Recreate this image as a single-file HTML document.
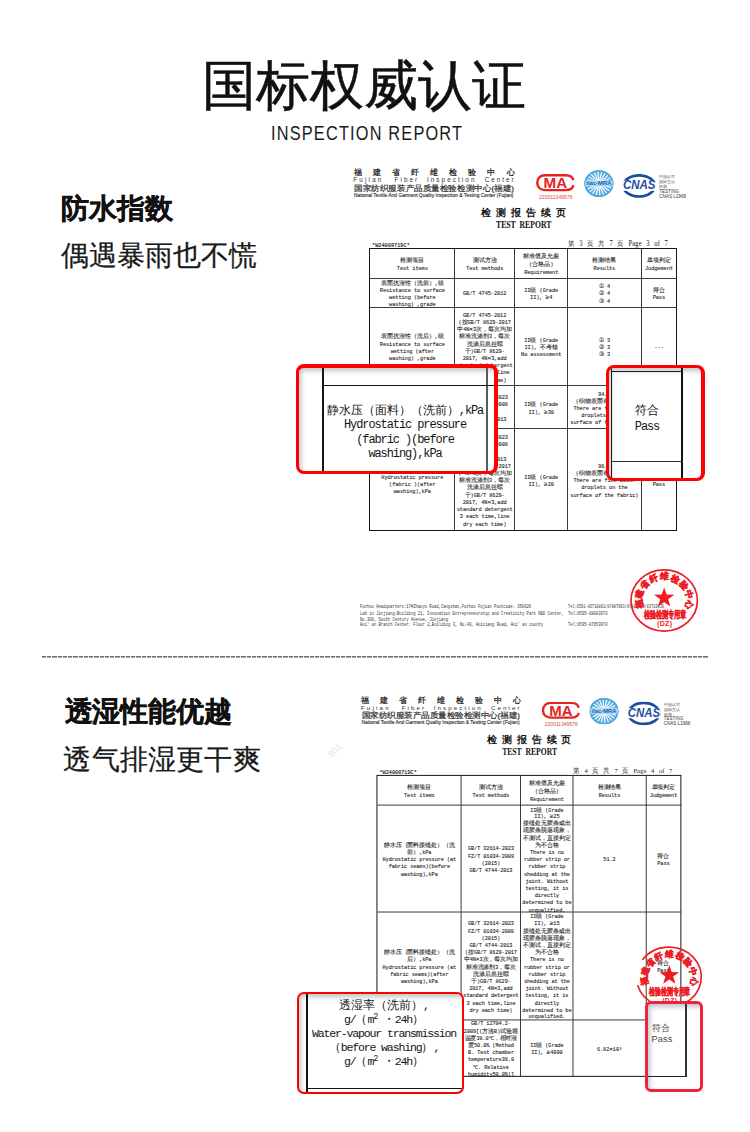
<!DOCTYPE html>
<html><head><meta charset="utf-8"><title>国标权威认证</title>
<style>
html,body{margin:0;padding:0;background:#fff;}
body{width:750px;height:1132px;position:relative;overflow:hidden;font-family:"Liberation Sans",sans-serif;color:#111;}
.ab,.ln,.ct,.jl,.fit,.co,svg.ab,.doc{position:absolute;}
.doc{left:0;top:0;width:750px;height:700px;transform-origin:0 0;}
.ab,.fit{white-space:nowrap;}
.fit{transform-origin:0 0;}
.ct{display:flex;align-items:center;justify-content:center;text-align:center;font-family:"Liberation Mono",monospace;letter-spacing:-0.08px;color:#111;white-space:nowrap;-webkit-text-stroke:0.1px #444;}
.ct b{font-weight:normal;letter-spacing:0;font-size:6.1px;line-height:0;-webkit-text-stroke:0.1px #444;color:#111;}
.mono{font-family:"Liberation Mono",monospace;}
.jl{display:flex;justify-content:space-between;white-space:nowrap;}
.co{box-sizing:border-box;background:#fff;overflow:hidden;}
.co .sh{position:absolute;left:0;top:0;right:0;bottom:0;box-shadow:inset 3px 4px 5px -1px rgba(60,75,75,.32);}
.z{font-family:"Liberation Mono",monospace;color:#151515;text-align:center;position:absolute;white-space:nowrap;}
.z b{font-weight:normal;letter-spacing:0;}
</style></head><body>
<div class="ab" style="left:201.5px;top:47px;font-size:54px;line-height:76px;color:#111;letter-spacing:0.1px;-webkit-text-stroke:0.5px #111">国标权威认证</div><div id="f1" class="fit" style="left:270.60px;top:120.80px;font-size:18px;line-height:22px;color:#1a1a1a;letter-spacing:1.3px;transform:scale(0.9075,1.1)">INSPECTION REPORT</div><div class="ab" style="left:61.2px;top:189px;font-size:28px;line-height:40px;font-weight:700;color:#111;-webkit-text-stroke:0.35px #111">防水指数</div><div class="ab" style="left:60.6px;top:236px;font-size:28px;letter-spacing:0.1px;line-height:40px;color:#1a1a1a;-webkit-text-stroke:0.25px #1a1a1a">偶遇暴雨也不慌</div><div class="doc"><div class="jl" style="left:353.6px;top:168.0px;width:161.0px;font-size:8.2px;line-height:9px;font-weight:400;color:#1a1a1a;-webkit-text-stroke:0.25px #1a1a1a"><span>福</span><span>建</span><span>省</span><span>纤</span><span>维</span><span>检</span><span>验</span><span>中</span><span>心</span></div><div class="jl" style="left:353.2px;top:175.5px;width:28.2px;font-size:6.3px;line-height:7px;color:#333"><span>F</span><span>u</span><span>j</span><span>i</span><span>a</span><span>n</span></div><div class="jl" style="left:394.6px;top:175.5px;width:22.5px;font-size:6.3px;line-height:7px;color:#333"><span>F</span><span>i</span><span>b</span><span>e</span><span>r</span></div><div class="jl" style="left:426.9px;top:175.5px;width:47.5px;font-size:6.3px;line-height:7px;color:#333"><span>I</span><span>n</span><span>s</span><span>p</span><span>e</span><span>c</span><span>t</span><span>i</span><span>o</span><span>n</span></div><div class="jl" style="left:484.8px;top:175.5px;width:28.8px;font-size:6.3px;line-height:7px;color:#333"><span>C</span><span>e</span><span>n</span><span>t</span><span>e</span><span>r</span></div><div id="f2" class="fit" style="left:353.80px;top:183.50px;font-size:7.6px;line-height:10px;color:#2a2a2a;-webkit-text-stroke:0.2px #333;transform:scale(1.0734,1.0)">国家纺织服装产品质量检验检测中心(福建)</div><div id="f3" class="fit" style="left:353.50px;top:193.20px;font-size:4.6px;line-height:5px;color:#222;-webkit-text-stroke:0.1px #222;transform:scale(1.0690,1.0)">National Textile And Garment Quality Inspection &amp; Testing Center (Fujian)</div><svg class="ab" style="left:536px;top:174.3px" width="39" height="17.4" viewBox="0 0 39 17.4">
<path d="M37.3 6.3 C36.8 2.9 34.2 1.25 29.5 1.25 H9 C4 1.25 1.25 4.4 1.25 8.7 C1.25 13 4 16.15 9 16.15 H29.5 C34.2 16.15 36.8 14.5 37.3 11.3" fill="none" stroke="#e8231f" stroke-width="2.4"/>
<text x="7.6" y="14.4" font-family="Liberation Sans" font-size="14.6" font-weight="700" fill="#e8231f" textLength="23.6" lengthAdjust="spacingAndGlyphs">MA</text>
</svg><div id="f4" class="fit" style="left:539.40px;top:194.60px;font-size:4.8px;line-height:5px;color:#e0473a;transform:scale(1.0577,1.0)">220011349576</div><svg class="ab" style="left:584.00px;top:169.60px" width="29.80" height="27.20" viewBox="0 0 32 32" preserveAspectRatio="none">
<circle cx="16" cy="16" r="15.6" fill="#5aaee0"/><line x1="19.49" y1="16.24" x2="29.17" y2="16.92" stroke="#fff" stroke-width="1.3" stroke-linecap="round"/><line x1="19.28" y1="17.22" x2="28.37" y2="20.60" stroke="#fff" stroke-width="1.3" stroke-linecap="round"/><line x1="18.80" y1="18.09" x2="26.58" y2="23.90" stroke="#fff" stroke-width="1.3" stroke-linecap="round"/><line x1="18.10" y1="18.80" x2="23.93" y2="26.56" stroke="#fff" stroke-width="1.3" stroke-linecap="round"/><line x1="17.23" y1="19.28" x2="20.63" y2="28.36" stroke="#fff" stroke-width="1.3" stroke-linecap="round"/><line x1="16.25" y1="19.49" x2="16.96" y2="29.17" stroke="#fff" stroke-width="1.3" stroke-linecap="round"/><line x1="15.26" y1="19.42" x2="13.21" y2="28.90" stroke="#fff" stroke-width="1.3" stroke-linecap="round"/><line x1="14.33" y1="19.07" x2="9.69" y2="27.59" stroke="#fff" stroke-width="1.3" stroke-linecap="round"/><line x1="13.53" y1="18.48" x2="6.68" y2="25.35" stroke="#fff" stroke-width="1.3" stroke-linecap="round"/><line x1="12.93" y1="17.68" x2="4.42" y2="22.34" stroke="#fff" stroke-width="1.3" stroke-linecap="round"/><line x1="12.58" y1="16.75" x2="3.11" y2="18.82" stroke="#fff" stroke-width="1.3" stroke-linecap="round"/><line x1="12.51" y1="15.76" x2="2.83" y2="15.08" stroke="#fff" stroke-width="1.3" stroke-linecap="round"/><line x1="12.72" y1="14.78" x2="3.63" y2="11.40" stroke="#fff" stroke-width="1.3" stroke-linecap="round"/><line x1="13.20" y1="13.91" x2="5.42" y2="8.10" stroke="#fff" stroke-width="1.3" stroke-linecap="round"/><line x1="13.90" y1="13.20" x2="8.07" y2="5.44" stroke="#fff" stroke-width="1.3" stroke-linecap="round"/><line x1="14.77" y1="12.72" x2="11.37" y2="3.64" stroke="#fff" stroke-width="1.3" stroke-linecap="round"/><line x1="15.75" y1="12.51" x2="15.04" y2="2.83" stroke="#fff" stroke-width="1.3" stroke-linecap="round"/><line x1="16.74" y1="12.58" x2="18.79" y2="3.10" stroke="#fff" stroke-width="1.3" stroke-linecap="round"/><line x1="17.67" y1="12.93" x2="22.31" y2="4.41" stroke="#fff" stroke-width="1.3" stroke-linecap="round"/><line x1="18.47" y1="13.52" x2="25.32" y2="6.65" stroke="#fff" stroke-width="1.3" stroke-linecap="round"/><line x1="19.07" y1="14.32" x2="27.58" y2="9.66" stroke="#fff" stroke-width="1.3" stroke-linecap="round"/><line x1="19.42" y1="15.25" x2="28.89" y2="13.18" stroke="#fff" stroke-width="1.3" stroke-linecap="round"/>
<circle cx="16" cy="16" r="15.1" fill="none" stroke="#4aa3d9" stroke-width="1.1"/>
<rect x="1.2" y="12.6" width="29.6" height="6.8" fill="#a9d8f1"/>
<text x="16" y="18" font-family="Liberation Sans" font-size="6.2" font-weight="700" fill="#1f5fb8" text-anchor="middle" textLength="27" lengthAdjust="spacingAndGlyphs">ilac-MRA</text>
</svg><svg class="ab" style="left:622.3px;top:173.8px" width="34.2" height="23.8" viewBox="0 0 34.2 23.8">
<ellipse cx="17.1" cy="11.9" rx="15.7" ry="10.6" fill="none" stroke="#1d4d9e" stroke-width="2.7"/>
<rect x="0" y="6.6" width="34.2" height="10.2" fill="#fff"/>
<text x="0.9" y="15.5" font-family="Liberation Sans" font-size="13" font-weight="700" font-style="italic" fill="#1d4d9e" textLength="32.6" lengthAdjust="spacingAndGlyphs">CNAS</text>
</svg><div class="ab" style="left:659.2px;top:174.2px;font-size:4.3px;line-height:5.0px;color:#555;">中国认可<br>国际互认<br>检测<br><span style="font-size:4.6px;color:#333">TESTING</span><br><span style="font-size:4.6px;color:#333">CNAS L1968</span></div><div class="jl" style="left:480.8px;top:206.8px;width:85px;font-size:9.6px;line-height:11px;font-weight:700;color:#111"><span>检</span><span>测</span><span>报</span><span>告</span><span>续</span><span>页</span></div><div id="f5" class="fit" style="left:495.60px;top:218.90px;font-family:'Liberation Serif',serif;font-size:9.8px;line-height:11px;font-weight:700;color:#111;word-spacing:2.5px;transform:scale(0.7879,1.0)">TEST REPORT</div><div id="f6" class="fit" style="left:371.60px;top:243.30px;font-family:'Liberation Mono',monospace;font-size:5.9px;line-height:6px;color:#111;-webkit-text-stroke:0.15px #333;transform:scale(0.8910,1.0)">*W24008719C*</div><div id="f7" class="fit" style="left:568.30px;top:240.30px;font-family:'Liberation Serif',serif;font-size:7.2px;line-height:9px;color:#151515;word-spacing:3.2px;letter-spacing:0.1px;transform:scale(0.9123,1.0)">第 3 页 共 7 页 Page 3 of 7</div><div class="ln" style="left:369.35px;top:248.15px;width:308.10px;height:283.00px;border:1.7px solid #151515;box-sizing:border-box"></div><div class="ln" style="left:454.05px;top:249.00px;width:0.9px;height:281.30px;background:#3a3a3a"></div><div class="ln" style="left:514.35px;top:249.00px;width:0.9px;height:281.30px;background:#3a3a3a"></div><div class="ln" style="left:567.15px;top:249.00px;width:0.9px;height:281.30px;background:#3a3a3a"></div><div class="ln" style="left:640.75px;top:249.00px;width:0.9px;height:281.30px;background:#3a3a3a"></div><div class="ln" style="left:370.20px;top:277.55px;width:306.40px;height:0.9px;background:#3a3a3a"></div><div class="ln" style="left:370.20px;top:306.85px;width:306.40px;height:0.9px;background:#3a3a3a"></div><div class="ln" style="left:370.20px;top:385.25px;width:306.40px;height:0.9px;background:#3a3a3a"></div><div class="ln" style="left:370.20px;top:428.25px;width:306.40px;height:0.9px;background:#3a3a3a"></div><div class="ct" style="left:370.20px;top:251.20px;width:84.30px;height:29.00px;font-size:5.3px;line-height:7.8px;"><div><b>检测项目</b><br>Test items</div></div><div class="ct" style="left:454.50px;top:251.20px;width:60.30px;height:29.00px;font-size:5.3px;line-height:7.8px;"><div><b>测试方法</b><br>Test methods</div></div><div class="ct" style="left:514.80px;top:251.20px;width:52.80px;height:29.00px;font-size:5.3px;line-height:7.8px;"><div><b>标准值及允差</b><br>(<b>合格品</b>)<br>Requirement</div></div><div class="ct" style="left:567.60px;top:251.20px;width:73.60px;height:29.00px;font-size:5.3px;line-height:7.8px;"><div><b>检测结果</b><br>Results</div></div><div class="ct" style="left:641.20px;top:251.20px;width:35.40px;height:29.00px;font-size:5.3px;line-height:7.8px;"><div><b>单项判定</b><br>Judgement</div></div><div class="ct" style="left:370.20px;top:280.40px;width:84.30px;height:29.30px;font-size:5.3px;line-height:7.2px;"><div><b>表面抗湿性（洗前）</b>,<b>级</b><br>Resistance to surface<br>wetting (before<br>washing) ,grade</div></div><div class="ct" style="left:454.50px;top:280.40px;width:60.30px;height:29.30px;font-size:5.3px;line-height:7.2px;"><div>GB/T 4745-2012</div></div><div class="ct" style="left:514.80px;top:280.40px;width:52.80px;height:29.30px;font-size:5.3px;line-height:7.2px;"><div>II<b>级</b> (Grade<br>II), <b>≥</b>4</div></div><div class="ct" style="left:567.60px;top:280.40px;width:73.60px;height:29.30px;font-size:5.3px;line-height:7.2px;"><div><b>①</b> 4<br><b>②</b> 4<br><b>③</b> 4</div></div><div class="ct" style="left:641.20px;top:280.40px;width:35.40px;height:29.30px;font-size:5.3px;line-height:7.2px;"><div><b>符合</b><br>Pass</div></div><div class="ct" style="left:370.20px;top:309.70px;width:84.30px;height:78.40px;font-size:5.3px;line-height:7.2px;"><div><b>表面抗湿性（洗后）</b>,<b>级</b><br>Resistance to surface<br>wetting (after<br>washing) ,grade</div></div><div class="ct" style="left:454.50px;top:309.70px;width:60.30px;height:78.40px;font-size:5.3px;line-height:7.2px;"><div>GB/T 4745-2012<br>(<b>按</b>GB/T 8629-2017<br><b>中</b>4N<b>×</b>3<b>次，每次均加</b><br><b>标准洗涤剂</b>3<b>，每次</b><br><b>洗涤后悬挂晾</b><br><b>干</b>)GB/T 8629-<br>2017, 4N<b>×</b>3,add<br>standard detergent<br>3 each time,line<br>dry each time)</div></div><div class="ct" style="left:514.80px;top:309.70px;width:52.80px;height:78.40px;font-size:5.3px;line-height:7.2px;"><div>II<b>级</b> (Grade<br>II), <b>不考核</b><br>No assessment</div></div><div class="ct" style="left:567.60px;top:309.70px;width:73.60px;height:78.40px;font-size:5.3px;line-height:7.2px;"><div><b>①</b> 3<br><b>②</b> 3<br><b>③</b> 3</div></div><div class="ct" style="left:641.20px;top:309.70px;width:35.40px;height:78.40px;font-size:5.3px;line-height:7.2px;"><div>---</div></div><div class="ct" style="left:370.20px;top:388.10px;width:84.30px;height:43.00px;font-size:5.3px;line-height:7.2px;"><div><b>静水压（面料）（洗前）</b>,kPa<br>Hydrostatic pressure<br>(fabric )(before<br>washing),kPa</div></div><div class="ct" style="left:454.50px;top:388.10px;width:60.30px;height:43.00px;font-size:5.3px;line-height:7.2px;"><div>GB/T 32614-2023<br>FZ/T 01034-2008<br>(2015)<br>GB/T 4744-2013</div></div><div class="ct" style="left:514.80px;top:388.10px;width:52.80px;height:43.00px;font-size:5.3px;line-height:7.2px;"><div>II<b>级</b> (Grade<br>II), <b>≥</b>30</div></div><div class="ct" style="left:567.60px;top:388.10px;width:73.60px;height:43.00px;font-size:5.3px;line-height:7.2px;"><div>94.0<br>(<b>织物表面有细小水珠</b><br>There are fine water<br>droplets on the<br>surface of the fabric)</div></div><div class="ct" style="left:641.20px;top:388.10px;width:35.40px;height:43.00px;font-size:5.3px;line-height:7.2px;"><div><b>符合</b><br>Pass</div></div><div class="ct" style="left:370.20px;top:431.10px;width:84.30px;height:101.60px;font-size:5.3px;line-height:7.2px;"><div><b>静水压（面料）（洗后）</b>,kPa<br>Hydrostatic pressure<br>(fabric )(after<br>washing),kPa</div></div><div class="ct" style="left:454.50px;top:431.10px;width:60.30px;height:101.60px;font-size:5.3px;line-height:7.2px;"><div>GB/T 32614-2023<br>FZ/T 01034-2008<br>(2015)<br>GB/T 4744-2013<br>(<b>按</b>GB/T 8629-2017<br><b>中</b>4N<b>×</b>3<b>次，每次均加</b><br><b>标准洗涤剂</b>3<b>，每次</b><br><b>洗涤后悬挂晾</b><br><b>干</b>)GB/T 8629-<br>2017, 4N<b>×</b>3,add<br>standard detergent<br>3 each time,line<br>dry each time)</div></div><div class="ct" style="left:514.80px;top:431.10px;width:52.80px;height:101.60px;font-size:5.3px;line-height:7.2px;"><div>II<b>级</b> (Grade<br>II), <b>≥</b>20</div></div><div class="ct" style="left:567.60px;top:431.10px;width:73.60px;height:101.60px;font-size:5.3px;line-height:7.2px;"><div>96.0<br>(<b>织物表面有细小水珠</b><br>There are fine water<br>droplets on the<br>surface of the fabric)</div></div><div class="ct" style="left:641.20px;top:431.10px;width:35.40px;height:101.60px;font-size:5.3px;line-height:7.2px;"><div><b>符合</b><br>Pass</div></div><div id="f8" class="fit" style="left:359.60px;top:604.40px;font-family:'Liberation Mono',monospace;font-size:5.6px;line-height:6px;color:#333;transform:scale(0.6888,1.0)">Fuzhou Headquarters:17#Zhaoyu Road,Cangshan,Fuzhou Fujian Postcode: 350026</div><div id="f9" class="fit" style="left:359.60px;top:611.00px;font-family:'Liberation Mono',monospace;font-size:5.6px;line-height:6px;color:#333;transform:scale(0.6892,1.0)">Lab in Jinjiang:Building 21, Innovation Entrepreneurship and Creativity Park R&amp;D Center,</div><div id="f10" class="fit" style="left:359.60px;top:616.50px;font-family:'Liberation Mono',monospace;font-size:5.6px;line-height:6px;color:#333;transform:scale(0.6899,1.0)">No.300, South Century Avenue, Jinjiang</div><div id="f11" class="fit" style="left:359.60px;top:622.20px;font-family:'Liberation Mono',monospace;font-size:5.6px;line-height:6px;color:#333;transform:scale(0.6905,1.0)">Hui' an Branch Center: Floor 2,Building 3, No.49, Huixiang Road, Hui' an county</div><div id="f12" class="fit" style="left:568.00px;top:604.40px;font-family:'Liberation Mono',monospace;font-size:5.6px;line-height:6px;color:#333;transform:scale(0.6500,1.0)">Tel:0591-83710801/87887063/87887062/83719836</div><div id="f13" class="fit" style="left:568.00px;top:611.00px;font-family:'Liberation Mono',monospace;font-size:5.6px;line-height:6px;color:#333;transform:scale(0.6920,1.0)">Tel:0595-88083970</div><div id="f14" class="fit" style="left:568.00px;top:622.20px;font-family:'Liberation Mono',monospace;font-size:5.6px;line-height:6px;color:#333;transform:scale(0.6920,1.0)">Tel:0595-87653970</div></div><svg class="ab" style="left:630.30px;top:569.30px;overflow:visible" width="68.40" height="63.00" viewBox="0 0 68 63">
<ellipse cx="34" cy="31.5" rx="33.2" ry="30.6" fill="none" stroke="#ee1c25" stroke-width="1.7"/>
<g font-family="Liberation Sans"><text x="8.75" y="34.84" font-size="8.8" font-weight="700" fill="#ee1c25" stroke="#ee1c25" stroke-width="0.45" text-anchor="middle" dominant-baseline="central" transform="rotate(262.0 8.75 34.84) scale(1 1)">福</text><text x="9.58" y="24.58" font-size="8.8" font-weight="700" fill="#ee1c25" stroke="#ee1c25" stroke-width="0.45" text-anchor="middle" dominant-baseline="central" transform="rotate(286.8 9.58 24.58) scale(1 1)">建</text><text x="14.90" y="15.60" font-size="8.8" font-weight="700" fill="#ee1c25" stroke="#ee1c25" stroke-width="0.45" text-anchor="middle" dominant-baseline="central" transform="rotate(311.5 14.90 15.60) scale(1 1)">省</text><text x="23.73" y="9.53" font-size="8.8" font-weight="700" fill="#ee1c25" stroke="#ee1c25" stroke-width="0.45" text-anchor="middle" dominant-baseline="central" transform="rotate(336.2 23.73 9.53) scale(1 1)">纤</text><text x="34.45" y="7.50" font-size="8.8" font-weight="700" fill="#ee1c25" stroke="#ee1c25" stroke-width="0.45" text-anchor="middle" dominant-baseline="central" transform="rotate(361.0 34.45 7.50) scale(1 1)">维</text><text x="45.08" y="9.88" font-size="8.8" font-weight="700" fill="#ee1c25" stroke="#ee1c25" stroke-width="0.45" text-anchor="middle" dominant-baseline="central" transform="rotate(385.8 45.08 9.88) scale(1 1)">检</text><text x="53.68" y="16.23" font-size="8.8" font-weight="700" fill="#ee1c25" stroke="#ee1c25" stroke-width="0.45" text-anchor="middle" dominant-baseline="central" transform="rotate(410.5 53.68 16.23) scale(1 1)">验</text><text x="58.66" y="25.39" font-size="8.8" font-weight="700" fill="#ee1c25" stroke="#ee1c25" stroke-width="0.45" text-anchor="middle" dominant-baseline="central" transform="rotate(435.2 58.66 25.39) scale(1 1)">中</text><text x="59.11" y="35.67" font-size="8.8" font-weight="700" fill="#ee1c25" stroke="#ee1c25" stroke-width="0.45" text-anchor="middle" dominant-baseline="central" transform="rotate(460.0 59.11 35.67) scale(1 1)">心</text></g>
<polygon points="34.00,18.40 36.47,25.60 44.08,25.72 37.99,30.30 40.23,37.58 34.00,33.20 27.77,37.58 30.01,30.30 23.92,25.72 31.53,25.60" fill="#ee1c25"/>
<text x="34.5" y="48.5" font-family="Liberation Sans" font-size="8.4" font-weight="700" fill="#ee1c25" stroke="#ee1c25" stroke-width="0.3" text-anchor="middle" transform="translate(0 -8) scale(1 1.17)" textLength="42" lengthAdjust="spacingAndGlyphs">检验检测专用章</text>
<text x="34.5" y="56.9" font-family="Liberation Sans" font-size="7" font-weight="700" fill="#ee1c25" text-anchor="middle" letter-spacing="0.4">(DZ)</text>
</svg><div class="co" style="left:296px;top:364px;width:202px;height:110px;border-style:solid;border-color:#ff0000;border-width:4px 4px 3px 3px;border-radius:8px"><div class="sh"></div><div class="ln" style="left:23px;top:0;width:2px;height:200px;background:#151515"></div><div class="ln" style="left:187px;top:0;width:2px;height:200px;background:#5a5a5a"></div><div class="ln" style="left:23px;top:16.8px;width:175px;height:1.3px;background:#151515"></div><div class="z" style="left:23px;top:35.5px;width:166px;font-size:12px;line-height:14.5px;letter-spacing:-1.1px"><b>静水压（面料）（洗前）</b>,kPa<br>Hydrostatic pressure<br>(fabric )(before<br>washing),kPa</div></div><div class="co" style="left:606px;top:365px;width:99px;height:116px;border-style:solid;border-color:#ff0000;border-width:3px 4px 3px 3px;border-radius:8px"><div class="sh"></div><div class="ln" style="left:2px;top:0;width:1.2px;height:120px;background:#1a1a1a"></div><div class="ln" style="left:72px;top:0;width:2px;height:120px;background:#111"></div><div class="ln" style="left:2px;top:3px;width:72px;height:1.3px;background:#1a1a1a"></div><div class="ln" style="left:2px;top:93px;width:72px;height:1px;background:#333"></div><div class="z" style="left:3px;top:36px;width:70px;font-size:12px;line-height:15.5px;letter-spacing:-1.1px"><b>符合</b><br>Pass</div></div><div class="ln" style="left:41.8px;top:656px;width:666px;height:1px;background:repeating-linear-gradient(90deg,#6e6e6e 0 4.1px,#e6e6e6 4.1px 5.25px)"></div><div class="ln" style="left:41.8px;top:657px;width:666px;height:1px;background:repeating-linear-gradient(90deg,#a8a8a8 0 4.1px,#f2f2f2 4.1px 5.25px)"></div><div class="ab" style="left:64.6px;top:691.5px;font-size:28px;letter-spacing:-0.1px;line-height:40px;font-weight:700;color:#111;-webkit-text-stroke:0.35px #111">透湿性能优越</div><div class="ab" style="left:63.4px;top:739.5px;font-size:28px;letter-spacing:0.2px;line-height:40px;color:#1a1a1a;-webkit-text-stroke:0.25px #1a1a1a">透气排湿更干爽</div><div class="ab" style="left:323px;top:745.5px;width:22px;text-align:center;font-size:9px;line-height:11px;color:#e6e6e6;transform:rotate(-42deg)">.901</div><div class="doc" style="transform:translate(11.137px,529.383px) scale(0.99)"><div class="jl" style="left:353.6px;top:168.0px;width:161.0px;font-size:8.2px;line-height:9px;font-weight:400;color:#1a1a1a;-webkit-text-stroke:0.25px #1a1a1a"><span>福</span><span>建</span><span>省</span><span>纤</span><span>维</span><span>检</span><span>验</span><span>中</span><span>心</span></div><div class="jl" style="left:353.2px;top:175.5px;width:28.2px;font-size:6.3px;line-height:7px;color:#333"><span>F</span><span>u</span><span>j</span><span>i</span><span>a</span><span>n</span></div><div class="jl" style="left:394.6px;top:175.5px;width:22.5px;font-size:6.3px;line-height:7px;color:#333"><span>F</span><span>i</span><span>b</span><span>e</span><span>r</span></div><div class="jl" style="left:426.9px;top:175.5px;width:47.5px;font-size:6.3px;line-height:7px;color:#333"><span>I</span><span>n</span><span>s</span><span>p</span><span>e</span><span>c</span><span>t</span><span>i</span><span>o</span><span>n</span></div><div class="jl" style="left:484.8px;top:175.5px;width:28.8px;font-size:6.3px;line-height:7px;color:#333"><span>C</span><span>e</span><span>n</span><span>t</span><span>e</span><span>r</span></div><div id="f15" class="fit" style="left:353.80px;top:183.50px;font-size:7.6px;line-height:10px;color:#2a2a2a;-webkit-text-stroke:0.2px #333;transform:scale(1.0734,1.0)">国家纺织服装产品质量检验检测中心(福建)</div><div id="f16" class="fit" style="left:353.50px;top:193.20px;font-size:4.6px;line-height:5px;color:#222;-webkit-text-stroke:0.1px #222;transform:scale(1.0690,1.0)">National Textile And Garment Quality Inspection &amp; Testing Center (Fujian)</div><svg class="ab" style="left:536px;top:174.3px" width="39" height="17.4" viewBox="0 0 39 17.4">
<path d="M37.3 6.3 C36.8 2.9 34.2 1.25 29.5 1.25 H9 C4 1.25 1.25 4.4 1.25 8.7 C1.25 13 4 16.15 9 16.15 H29.5 C34.2 16.15 36.8 14.5 37.3 11.3" fill="none" stroke="#e8231f" stroke-width="2.4"/>
<text x="7.6" y="14.4" font-family="Liberation Sans" font-size="14.6" font-weight="700" fill="#e8231f" textLength="23.6" lengthAdjust="spacingAndGlyphs">MA</text>
</svg><div id="f17" class="fit" style="left:539.40px;top:194.60px;font-size:4.8px;line-height:5px;color:#e0473a;transform:scale(1.0577,1.0)">220011349576</div><svg class="ab" style="left:584.00px;top:169.60px" width="29.80" height="27.20" viewBox="0 0 32 32" preserveAspectRatio="none">
<circle cx="16" cy="16" r="15.6" fill="#5aaee0"/><line x1="19.49" y1="16.24" x2="29.17" y2="16.92" stroke="#fff" stroke-width="1.3" stroke-linecap="round"/><line x1="19.28" y1="17.22" x2="28.37" y2="20.60" stroke="#fff" stroke-width="1.3" stroke-linecap="round"/><line x1="18.80" y1="18.09" x2="26.58" y2="23.90" stroke="#fff" stroke-width="1.3" stroke-linecap="round"/><line x1="18.10" y1="18.80" x2="23.93" y2="26.56" stroke="#fff" stroke-width="1.3" stroke-linecap="round"/><line x1="17.23" y1="19.28" x2="20.63" y2="28.36" stroke="#fff" stroke-width="1.3" stroke-linecap="round"/><line x1="16.25" y1="19.49" x2="16.96" y2="29.17" stroke="#fff" stroke-width="1.3" stroke-linecap="round"/><line x1="15.26" y1="19.42" x2="13.21" y2="28.90" stroke="#fff" stroke-width="1.3" stroke-linecap="round"/><line x1="14.33" y1="19.07" x2="9.69" y2="27.59" stroke="#fff" stroke-width="1.3" stroke-linecap="round"/><line x1="13.53" y1="18.48" x2="6.68" y2="25.35" stroke="#fff" stroke-width="1.3" stroke-linecap="round"/><line x1="12.93" y1="17.68" x2="4.42" y2="22.34" stroke="#fff" stroke-width="1.3" stroke-linecap="round"/><line x1="12.58" y1="16.75" x2="3.11" y2="18.82" stroke="#fff" stroke-width="1.3" stroke-linecap="round"/><line x1="12.51" y1="15.76" x2="2.83" y2="15.08" stroke="#fff" stroke-width="1.3" stroke-linecap="round"/><line x1="12.72" y1="14.78" x2="3.63" y2="11.40" stroke="#fff" stroke-width="1.3" stroke-linecap="round"/><line x1="13.20" y1="13.91" x2="5.42" y2="8.10" stroke="#fff" stroke-width="1.3" stroke-linecap="round"/><line x1="13.90" y1="13.20" x2="8.07" y2="5.44" stroke="#fff" stroke-width="1.3" stroke-linecap="round"/><line x1="14.77" y1="12.72" x2="11.37" y2="3.64" stroke="#fff" stroke-width="1.3" stroke-linecap="round"/><line x1="15.75" y1="12.51" x2="15.04" y2="2.83" stroke="#fff" stroke-width="1.3" stroke-linecap="round"/><line x1="16.74" y1="12.58" x2="18.79" y2="3.10" stroke="#fff" stroke-width="1.3" stroke-linecap="round"/><line x1="17.67" y1="12.93" x2="22.31" y2="4.41" stroke="#fff" stroke-width="1.3" stroke-linecap="round"/><line x1="18.47" y1="13.52" x2="25.32" y2="6.65" stroke="#fff" stroke-width="1.3" stroke-linecap="round"/><line x1="19.07" y1="14.32" x2="27.58" y2="9.66" stroke="#fff" stroke-width="1.3" stroke-linecap="round"/><line x1="19.42" y1="15.25" x2="28.89" y2="13.18" stroke="#fff" stroke-width="1.3" stroke-linecap="round"/>
<circle cx="16" cy="16" r="15.1" fill="none" stroke="#4aa3d9" stroke-width="1.1"/>
<rect x="1.2" y="12.6" width="29.6" height="6.8" fill="#a9d8f1"/>
<text x="16" y="18" font-family="Liberation Sans" font-size="6.2" font-weight="700" fill="#1f5fb8" text-anchor="middle" textLength="27" lengthAdjust="spacingAndGlyphs">ilac-MRA</text>
</svg><svg class="ab" style="left:622.3px;top:173.8px" width="34.2" height="23.8" viewBox="0 0 34.2 23.8">
<ellipse cx="17.1" cy="11.9" rx="15.7" ry="10.6" fill="none" stroke="#1d4d9e" stroke-width="2.7"/>
<rect x="0" y="6.6" width="34.2" height="10.2" fill="#fff"/>
<text x="0.9" y="15.5" font-family="Liberation Sans" font-size="13" font-weight="700" font-style="italic" fill="#1d4d9e" textLength="32.6" lengthAdjust="spacingAndGlyphs">CNAS</text>
</svg><div class="ab" style="left:659.2px;top:174.2px;font-size:4.3px;line-height:5.0px;color:#555;">中国认可<br>国际互认<br>检测<br><span style="font-size:4.6px;color:#333">TESTING</span><br><span style="font-size:4.6px;color:#333">CNAS L1968</span></div><div class="jl" style="left:480.8px;top:206.8px;width:85px;font-size:9.6px;line-height:11px;font-weight:700;color:#111"><span>检</span><span>测</span><span>报</span><span>告</span><span>续</span><span>页</span></div><div id="f18" class="fit" style="left:495.60px;top:218.90px;font-family:'Liberation Serif',serif;font-size:9.8px;line-height:11px;font-weight:700;color:#111;word-spacing:2.5px;transform:scale(0.7879,1.0)">TEST REPORT</div><div id="f19" class="fit" style="left:371.60px;top:243.30px;font-family:'Liberation Mono',monospace;font-size:5.9px;line-height:6px;color:#111;-webkit-text-stroke:0.15px #333;transform:scale(0.8910,1.0)">*W24008719C*</div><div id="f20" class="fit" style="left:568.30px;top:240.30px;font-family:'Liberation Serif',serif;font-size:7.2px;line-height:9px;color:#151515;word-spacing:3.2px;letter-spacing:0.1px;transform:scale(0.9123,1.0)">第 4 页 共 7 页 Page 4 of 7</div><div class="ln" style="left:369.35px;top:248.15px;width:308.10px;height:305.20px;border:1.7px solid #151515;box-sizing:border-box"></div><div class="ln" style="left:454.05px;top:249.00px;width:0.9px;height:303.50px;background:#3a3a3a"></div><div class="ln" style="left:514.35px;top:249.00px;width:0.9px;height:303.50px;background:#3a3a3a"></div><div class="ln" style="left:567.15px;top:249.00px;width:0.9px;height:303.50px;background:#3a3a3a"></div><div class="ln" style="left:640.75px;top:249.00px;width:0.9px;height:303.50px;background:#3a3a3a"></div><div class="ln" style="left:370.20px;top:277.75px;width:306.40px;height:0.9px;background:#3a3a3a"></div><div class="ln" style="left:370.20px;top:386.25px;width:306.40px;height:0.9px;background:#3a3a3a"></div><div class="ln" style="left:370.20px;top:494.55px;width:306.40px;height:0.9px;background:#3a3a3a"></div><div class="ct" style="left:370.20px;top:251.20px;width:84.30px;height:29.20px;font-size:5.3px;line-height:7.8px;"><div><b>检测项目</b><br>Test items</div></div><div class="ct" style="left:454.50px;top:251.20px;width:60.30px;height:29.20px;font-size:5.3px;line-height:7.8px;"><div><b>测试方法</b><br>Test methods</div></div><div class="ct" style="left:514.80px;top:251.20px;width:52.80px;height:29.20px;font-size:5.3px;line-height:7.8px;"><div><b>标准值及允差</b><br>(<b>合格品</b>)<br>Requirement</div></div><div class="ct" style="left:567.60px;top:251.20px;width:73.60px;height:29.20px;font-size:5.3px;line-height:7.8px;"><div><b>检测结果</b><br>Results</div></div><div class="ct" style="left:641.20px;top:251.20px;width:35.40px;height:29.20px;font-size:5.3px;line-height:7.8px;"><div><b>单项判定</b><br>Judgement</div></div><div class="ct" style="left:370.20px;top:280.60px;width:84.30px;height:108.50px;font-size:5.3px;line-height:7.2px;"><div><b>静水压（面料接缝处）（洗</b><br><b>前）</b>,kPa<br>Hydrostatic pressure (at<br>fabric seams)(before<br>washing),kPa</div></div><div class="ct" style="left:454.50px;top:280.60px;width:60.30px;height:108.50px;font-size:5.3px;line-height:7.2px;"><div>GB/T 32614-2023<br>FZ/T 01034-2008<br>(2015)<br>GB/T 4744-2013</div></div><div class="ct" style="left:514.80px;top:280.60px;width:52.80px;height:108.50px;font-size:5.3px;line-height:7.2px;"><div>II<b>级</b> (Grade<br>II), <b>≥</b>25<br><b>接缝处无胶条或出</b><br><b>现胶条脱落现象，</b><br><b>不测试，直接判定</b><br><b>为不合格</b><br>There is no<br>rubber strip or<br>rubber strip<br>shedding at the<br>joint. Without<br>testing, it is<br>directly<br>determined to be<br>unqualified.</div></div><div class="ct" style="left:567.60px;top:280.60px;width:73.60px;height:108.50px;font-size:5.3px;line-height:7.2px;"><div>51.2</div></div><div class="ct" style="left:641.20px;top:280.60px;width:35.40px;height:108.50px;font-size:5.3px;line-height:7.2px;"><div><b>符合</b><br>Pass</div></div><div class="ct" style="left:370.20px;top:389.10px;width:84.30px;height:108.30px;font-size:5.3px;line-height:7.2px;"><div><b>静水压（面料接缝处）（洗</b><br><b>后）</b>,kPa<br>Hydrostatic pressure (at<br>fabric seams)(after<br>washing),kPa</div></div><div class="ct" style="left:454.50px;top:389.10px;width:60.30px;height:108.30px;font-size:5.3px;line-height:7.2px;"><div>GB/T 32614-2023<br>FZ/T 01034-2008<br>(2015)<br>GB/T 4744-2013<br>(<b>按</b>GB/T 8629-2017<br><b>中</b>4N<b>×</b>3<b>次，每次均加</b><br><b>标准洗涤剂</b>3<b>，每次</b><br><b>洗涤后悬挂晾</b><br><b>干</b>)GB/T 8629-<br>2017, 4N<b>×</b>3,add<br>standard detergent<br>3 each time,line<br>dry each time)</div></div><div class="ct" style="left:514.80px;top:389.10px;width:52.80px;height:108.30px;font-size:5.3px;line-height:7.2px;"><div>II<b>级</b> (Grade<br>II), <b>≥</b>15<br><b>接缝处无胶条或出</b><br><b>现胶条脱落现象，</b><br><b>不测试，直接判定</b><br><b>为不合格</b><br>There is no<br>rubber strip or<br>rubber strip<br>shedding at the<br>joint. Without<br>testing, it is<br>directly<br>determined to be<br>unqualified.</div></div><div class="ct" style="left:641.20px;top:389.10px;width:35.40px;height:108.30px;font-size:5.3px;line-height:7.2px;"><div><b>符合</b><br>Pass</div></div><div class="ct" style="left:370.20px;top:497.40px;width:84.30px;height:57.50px;font-size:5.3px;line-height:7.2px;"><div><b>透湿率（洗前）</b>,<br>g/(m²·24h)<br>Water-vapour transmission<br>(before washing),<br>g/(m²·24h)</div></div><div class="ct" style="left:454.50px;top:497.40px;width:60.30px;height:57.50px;font-size:5.3px;line-height:7.2px;"><div>GB/T 12704.2-<br>2009[(<b>方法</b>B)<b>试验箱</b><br><b>温度</b>38.0℃<b>，相对湿</b><br><b>度</b>50.0% (Method<br>B. Test chamber<br>temperature38.0<br>℃. Relative<br>humidity50.0%)]</div></div><div class="ct" style="left:514.80px;top:497.40px;width:52.80px;height:57.50px;font-size:5.3px;line-height:7.2px;"><div>II<b>级</b> (Grade<br>II), <b>≥</b>4000</div></div><div class="ct" style="left:567.60px;top:497.40px;width:73.60px;height:57.50px;font-size:5.3px;line-height:7.2px;"><div>6.82<b>×</b>10³</div></div><div class="ct" style="left:641.20px;top:497.40px;width:35.40px;height:57.50px;font-size:5.3px;line-height:7.2px;"><div><b>符合</b><br>Pass</div></div></div><svg class="ab" style="left:636.40px;top:946.70px;overflow:visible" width="66.60" height="61.60" viewBox="0 0 68 63">
<path d="M6.5 13 A33.2 30.6 0 1 1 1.6 39" fill="none" stroke="#ee1c25" stroke-width="1.7"/>
<g font-family="Liberation Sans"><text x="8.75" y="34.84" font-size="8.8" font-weight="700" fill="#ee1c25" stroke="#ee1c25" stroke-width="0.45" text-anchor="middle" dominant-baseline="central" transform="rotate(262.0 8.75 34.84) scale(1 1)">福</text><text x="9.58" y="24.58" font-size="8.8" font-weight="700" fill="#ee1c25" stroke="#ee1c25" stroke-width="0.45" text-anchor="middle" dominant-baseline="central" transform="rotate(286.8 9.58 24.58) scale(1 1)">建</text><text x="14.90" y="15.60" font-size="8.8" font-weight="700" fill="#ee1c25" stroke="#ee1c25" stroke-width="0.45" text-anchor="middle" dominant-baseline="central" transform="rotate(311.5 14.90 15.60) scale(1 1)">省</text><text x="23.73" y="9.53" font-size="8.8" font-weight="700" fill="#ee1c25" stroke="#ee1c25" stroke-width="0.45" text-anchor="middle" dominant-baseline="central" transform="rotate(336.2 23.73 9.53) scale(1 1)">纤</text><text x="34.45" y="7.50" font-size="8.8" font-weight="700" fill="#ee1c25" stroke="#ee1c25" stroke-width="0.45" text-anchor="middle" dominant-baseline="central" transform="rotate(361.0 34.45 7.50) scale(1 1)">维</text><text x="45.08" y="9.88" font-size="8.8" font-weight="700" fill="#ee1c25" stroke="#ee1c25" stroke-width="0.45" text-anchor="middle" dominant-baseline="central" transform="rotate(385.8 45.08 9.88) scale(1 1)">检</text><text x="53.68" y="16.23" font-size="8.8" font-weight="700" fill="#ee1c25" stroke="#ee1c25" stroke-width="0.45" text-anchor="middle" dominant-baseline="central" transform="rotate(410.5 53.68 16.23) scale(1 1)">验</text><text x="58.66" y="25.39" font-size="8.8" font-weight="700" fill="#ee1c25" stroke="#ee1c25" stroke-width="0.45" text-anchor="middle" dominant-baseline="central" transform="rotate(435.2 58.66 25.39) scale(1 1)">中</text><text x="59.11" y="35.67" font-size="8.8" font-weight="700" fill="#ee1c25" stroke="#ee1c25" stroke-width="0.45" text-anchor="middle" dominant-baseline="central" transform="rotate(460.0 59.11 35.67) scale(1 1)">心</text></g>
<polygon points="34.00,18.40 36.47,25.60 44.08,25.72 37.99,30.30 40.23,37.58 34.00,33.20 27.77,37.58 30.01,30.30 23.92,25.72 31.53,25.60" fill="#ee1c25"/>
<text x="34.5" y="48.5" font-family="Liberation Sans" font-size="8.4" font-weight="700" fill="#ee1c25" stroke="#ee1c25" stroke-width="0.3" text-anchor="middle" transform="translate(0 -8) scale(1 1.17)" textLength="42" lengthAdjust="spacingAndGlyphs">检验检测专用章</text>
<text x="34.5" y="56.9" font-family="Liberation Sans" font-size="7" font-weight="700" fill="#ee1c25" text-anchor="middle" letter-spacing="0.4">(DZ)</text>
</svg><div class="co" style="left:297px;top:992px;width:167px;height:102px;border-style:solid;border-color:#ff0000;border-width:2px;border-radius:7px"><div class="sh"></div><div class="ln" style="left:7px;top:0;width:2px;height:200px;background:#111"></div><div class="ln" style="left:7px;top:93.8px;width:160px;height:1.3px;background:#111"></div><div class="z" style="left:9px;top:4.5px;width:152px;font-size:11.6px;line-height:14px;letter-spacing:-1.2px"><b>透湿率（洗前）</b>,<br>g/<b>（</b>m<sup style="font-size:8.5px;vertical-align:4px;line-height:0">2</sup> <b>・</b>24h<b>）</b><br>Water-vapour transmission<br><b>（</b>before washing<b>）</b>,<br>g/<b>（</b>m<sup style="font-size:8.5px;vertical-align:4px;line-height:0">2</sup> <b>・</b>24h<b>）</b></div></div><div class="co" style="left:645px;top:1001px;width:58px;height:91px;border-style:solid;border-color:#f0203f;border-width:3px;border-radius:6px"><div class="sh"></div><div class="ln" style="left:37.3px;top:0;width:1.4px;height:73.2px;background:#333"></div><div class="ln" style="left:-3px;top:71.8px;width:41.7px;height:1.4px;background:#222"></div><div class="z" style="left:3.6px;top:18.6px;width:26px;font-size:9.2px;line-height:11.2px;letter-spacing:0.1px;text-align:left;color:#4a4a4a;font-family:'Liberation Sans',sans-serif"><b>符合</b><br>Pass</div></div></body></html>
